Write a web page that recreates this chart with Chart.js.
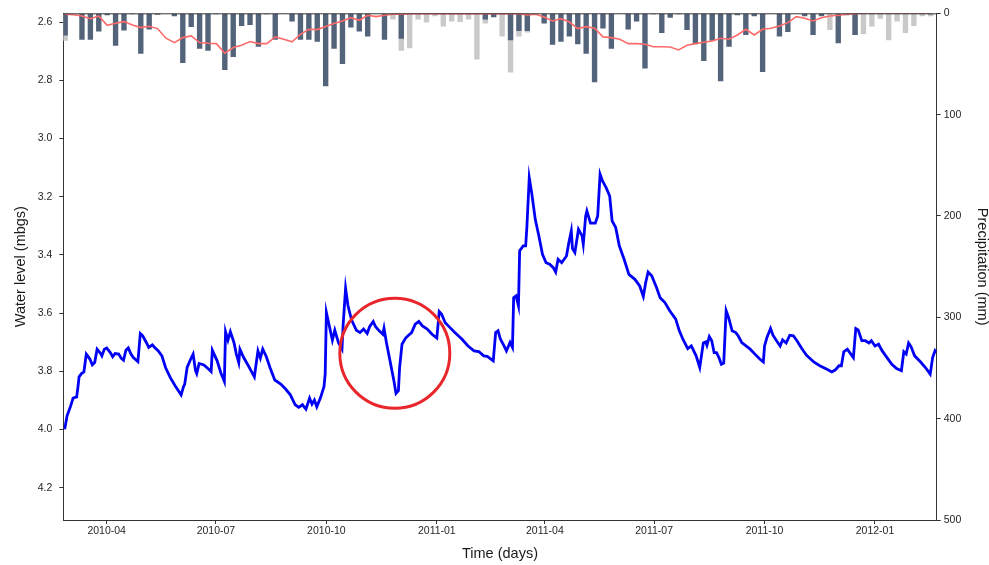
<!DOCTYPE html>
<html>
<head>
<meta charset="utf-8">
<title>Water level and precipitation</title>
<script src="https://cdn.jsdelivr.net/npm/chart.js@4.4.1/dist/chart.umd.min.js"></script>
<style>
  html, body { margin: 0; padding: 0; background: #fff; }
</style>
</head>
<body>
<canvas id="levelChart" width="989" height="565"></canvas>
<script>
// days counted from 2010-01-01 (= day 0)
const levelDay = [
    55, 57, 60, 62, 65, 66, 67, 69, 71, 73, 76, 78, 80, 82, 85, 86, 88, 90, 93, 95,
    97, 100, 102, 104, 106, 108, 110, 112, 116, 118, 120, 123, 125, 128, 130, 133, 136, 139, 143, 147,
    152, 154, 155, 157, 160, 162, 164, 165, 167, 171, 175, 177, 178, 182, 185, 188, 189, 191, 193, 196,
    198, 200, 201, 204, 208, 213, 216, 218, 220, 223, 226, 230, 235, 239, 243, 247, 250, 253, 256, 259,
    261, 263, 265, 268, 271, 272, 273, 275, 278, 280, 283, 286, 287, 289, 291, 294, 298, 301, 304, 307,
    309, 312, 314, 317, 320, 321, 323, 326, 329, 331, 333, 334, 336, 339, 341, 344, 347, 350, 353, 357,
    361, 365, 367, 369, 372, 376, 380, 386, 391, 396, 400, 404, 407, 412, 414, 416, 418, 421, 423, 426,
    428, 429, 431, 433, 434, 437, 439, 440, 442, 444, 447, 450, 453, 456, 459, 462, 464, 466, 469, 473,
    475, 477, 478, 480, 483, 486, 487, 489, 490, 493, 497, 499, 501, 503, 506, 509, 511, 514, 517, 521,
    525, 530, 534, 537, 539, 541, 544, 548, 551, 555, 559, 564, 567, 570, 574, 577, 581, 584, 587, 589,
    590, 592, 594, 596, 598, 600, 602, 604, 606, 608, 611, 614, 616, 619, 622, 626, 630, 634, 637, 638,
    640, 643, 645, 648, 651, 653, 656, 659, 662, 665, 669, 673, 679, 684, 690, 694, 697, 700, 702, 704,
    707, 709, 712, 714, 716, 719, 722, 725, 727, 730, 733, 736, 740, 744, 748, 752, 754, 756, 758, 760,
    763, 768, 772, 776, 778, 780, 781
];
const levelValue = [
    3.999, 3.953, 3.919, 3.892, 3.888, 3.856, 3.819, 3.808, 3.802, 3.741, 3.758, 3.778, 3.770, 3.724, 3.739, 3.747, 3.724, 3.720, 3.736, 3.750,
    3.739, 3.741, 3.755, 3.762, 3.728, 3.720, 3.739, 3.752, 3.767, 3.670, 3.678, 3.701, 3.718, 3.709, 3.718, 3.730, 3.747, 3.787, 3.822, 3.850,
    3.881, 3.853, 3.844, 3.787, 3.758, 3.741, 3.798, 3.808, 3.773, 3.778, 3.793, 3.801, 3.728, 3.764, 3.804, 3.835, 3.664, 3.693, 3.664, 3.701,
    3.741, 3.770, 3.724, 3.752, 3.781, 3.819, 3.730, 3.755, 3.724, 3.750, 3.787, 3.830, 3.844, 3.861, 3.881, 3.915, 3.924, 3.915, 3.930, 3.892,
    3.913, 3.899, 3.922, 3.892, 3.853, 3.810, 3.598, 3.636, 3.693, 3.659, 3.701, 3.724, 3.638, 3.515, 3.575, 3.624, 3.659, 3.667, 3.655, 3.670,
    3.647, 3.629, 3.647, 3.661, 3.673, 3.652, 3.701, 3.764, 3.827, 3.876, 3.867, 3.787, 3.707, 3.686, 3.678, 3.667, 3.638, 3.629, 3.644, 3.655,
    3.673, 3.686, 3.595, 3.604, 3.633, 3.650, 3.667, 3.690, 3.713, 3.730, 3.732, 3.747, 3.749, 3.764, 3.667, 3.661, 3.690, 3.713, 3.730, 3.701,
    3.718, 3.547, 3.541, 3.575, 3.386, 3.369, 3.369, 3.306, 3.135, 3.186, 3.278, 3.335, 3.398, 3.427, 3.432, 3.444, 3.459, 3.415, 3.427, 3.404,
    3.358, 3.318, 3.378, 3.392, 3.312, 3.335, 3.363, 3.266, 3.249, 3.291, 3.291, 3.266, 3.123, 3.146, 3.169, 3.198, 3.283, 3.306, 3.369, 3.415,
    3.467, 3.484, 3.507, 3.543, 3.495, 3.459, 3.472, 3.512, 3.547, 3.564, 3.592, 3.621, 3.661, 3.690, 3.722, 3.713, 3.747, 3.787, 3.703, 3.699,
    3.711, 3.681, 3.695, 3.736, 3.736, 3.753, 3.776, 3.772, 3.592, 3.615, 3.661, 3.667, 3.678, 3.701, 3.711, 3.724, 3.741, 3.758, 3.768, 3.713,
    3.684, 3.653, 3.676, 3.695, 3.713, 3.692, 3.703, 3.676, 3.678, 3.695, 3.722, 3.745, 3.768, 3.781, 3.793, 3.802, 3.795, 3.781, 3.781, 3.733,
    3.724, 3.736, 3.753, 3.653, 3.658, 3.695, 3.695, 3.703, 3.695, 3.713, 3.707, 3.730, 3.753, 3.776, 3.791, 3.798, 3.733, 3.741, 3.703, 3.715,
    3.747, 3.768, 3.787, 3.810, 3.753, 3.730, 3.736
];

// weekly precipitation (mm), first week centred on day 55.4
const precipFirstDay = 55.4;
const precipDark = [
    22, 0, 26, 26, 18, 2, 32, 17, 1, 40, 16, 1.5, 0, 3, 49, 13.5, 35, 37, 1, 56,
    43, 12.5, 11.5, 33, 1, 26, 0, 8, 26, 26, 28, 72, 35, 50, 14, 18, 23, 0, 26, 0,
    25, 0, 0, 0, 0, 0, 0, 0, 0, 0, 6, 4, 0, 26.5, 17.5, 17.5, 0, 10, 31, 28,
    23, 30.5, 40, 68, 15, 35, 0, 16, 8, 54.5, 1, 19.5, 4.5, 1, 16.5, 30.5, 47, 27, 67, 33,
    2, 21.5, 3, 58, 0, 23, 18.5, 0, 3, 21.5, 3, 0, 29.5, 2, 21.5, 0, 0, 0, 0, 0,
    0, 0, 0, 1
];
const precipGray = [
    27, 0, 0, 0, 0, 0, 0, 0, 0, 0, 0, 0, 0, 0, 0, 0, 0, 0, 0, 0,
    0, 0, 0, 0, 0, 0, 0, 0, 0, 0, 0, 0, 0, 0, 0, 0, 0, 0, 0, 6,
    37, 34.5, 6, 9, 3, 13, 8, 8.5, 6, 45.5, 10, 0, 23, 58.5, 23, 19, 0, 0, 0, 0,
    0, 0, 0, 0, 0, 0, 0, 0, 0, 0, 0, 0, 0, 0, 0, 0, 0, 0, 0, 0,
    0, 0, 0, 0, 0, 0, 0, 0, 0, 0, 0, 16.5, 0, 0, 21.5, 20.5, 13, 5.5, 26.5, 8,
    19.5, 12.5, 3, 3
];
const precipLine = [
    1, 1.5, 2.7, 5.3, 2.7, 11.9, 9.9, 8.2, 11.5, 14.1, 12.8, 15.1, 24.6, 28.9, 24, 22.3, 28.9, 29.6, 29.9, 39.4,
    33.8, 31.5, 27.9, 29.9, 29.9, 23.3, 25.6, 28.2, 20.7, 15.8, 16.1, 13, 10, 7.5, 4.3, 6.9, 2, 3.3, 2, 1,
    1, 0.4, 0.4, 0.4, 0.4, 0.4, 0.4, 0.4, 0.4, 0.4, 0.4, 0.4, 0.4, 0.4, 0.4, 1.7, 1, 3.6, 7.5, 5.3,
    8.6, 15.1, 13.2, 14.8, 23.3, 24, 25.6, 29.9, 29.9, 30.5, 33, 33, 33.2, 36.2, 31.5, 29.9, 28.6, 27.3, 24.6, 25.6,
    21.4, 15.8, 21.4, 15.8, 14.8, 12.5, 9.2, 3.3, 4.9, 7.5, 4.3, 2.7, 2, 1, 0.4, 0, 0, 0, 0, 0,
    0, 0, 0, 0
];

const monthTicks = ['2010-04', '2010-07', '2010-10', '2011-01', '2011-04', '2011-07', '2011-10', '2012-01'];
const levelTicks = [2.6, 2.8, 3.0, 3.2, 3.4, 3.6, 3.8, 4.0, 4.2];
const precipTicks = [0, 100, 200, 300, 400, 500];

function dayOf(label) {
    const parts = label.split('-').map(Number);
    return (Date.UTC(parts[0], parts[1] - 1, 1) - Date.UTC(2010, 0, 1)) / 86400000;
}

function weekly(values) {
    return values.map(function (v, i) { return { x: precipFirstDay + 7 * i, y: v }; });
}

Chart.defaults.font.family = '"Liberation Sans", Arial, sans-serif';
Chart.defaults.color = '#262626';

// top frame line and the red circle around the Nov 2010 dip
const frameAndCircle = {
    id: 'frameAndCircle',
    afterDatasetsDraw(chart) {
        const ctx = chart.ctx;
        const area = chart.chartArea;
        ctx.save();
        ctx.strokeStyle = '#333';
        ctx.lineWidth = 1;
        ctx.beginPath();
        ctx.moveTo(area.left, area.top + 0.5);
        ctx.lineTo(area.right, area.top + 0.5);
        ctx.stroke();

        const cx = chart.scales.x.getPixelForValue(330);
        const cy = chart.scales.y.getPixelForValue(3.738);
        ctx.strokeStyle = '#e8262b';
        ctx.lineWidth = 3;
        ctx.beginPath();
        ctx.arc(cx, cy, 55, 0, Math.PI * 2);
        ctx.stroke();
        ctx.restore();
    }
};

const axisGrid = { drawOnChartArea: false, drawTicks: true, tickLength: 4, color: '#333' };
const axisBorder = { display: true, color: '#333', width: 1 };

const ctx = document.getElementById('levelChart').getContext('2d');
new Chart(ctx, {
    type: 'bar',
    data: {
        datasets: [
            {
                type: 'line',
                label: 'Water level',
                data: levelDay.map(function (d, i) { return { x: d, y: levelValue[i] }; }),
                borderColor: '#0000f5',
                borderWidth: 2.8,
                pointRadius: 0,
                tension: 0,
                yAxisID: 'y',
                order: 0
            },
            {
                type: 'line',
                label: 'Precipitation trend',
                data: weekly(precipLine),
                borderColor: '#ff6a6a',
                borderWidth: 1.6,
                pointRadius: 0,
                tension: 0,
                yAxisID: 'y1',
                order: 1
            },
            {
                label: 'Precipitation',
                data: weekly(precipDark),
                backgroundColor: '#536379',
                barPercentage: 0.64,
                categoryPercentage: 1,
                grouped: false,
                yAxisID: 'y1',
                order: 2
            },
            {
                label: 'Precipitation (other)',
                data: weekly(precipGray),
                backgroundColor: '#c9c9c9',
                barPercentage: 0.64,
                categoryPercentage: 1,
                grouped: false,
                yAxisID: 'y1',
                order: 3
            }
        ]
    },
    options: {
        responsive: false,
        animation: false,
        events: [],
        layout: { padding: { top: 12, left: 0, right: 0, bottom: 0 } },
        plugins: {
            legend: { display: false },
            tooltip: { enabled: false }
        },
        scales: {
            x: {
                type: 'linear',
                min: 53.85,
                max: 781.4,
                offset: false,
                grid: Object.assign({ offset: false }, axisGrid),
                border: axisBorder,
                afterBuildTicks: function (scale) {
                    scale.ticks = monthTicks.map(function (m) { return { value: dayOf(m) }; });
                },
                ticks: {
                    autoSkip: false,
                    maxRotation: 0,
                    padding: 1,
                    font: { size: 10.5 },
                    callback: function (value, index) { return monthTicks[index]; }
                },
                title: {
                    display: true,
                    text: 'Time (days)',
                    color: '#1a1a1a',
                    font: { size: 14.5, lineHeight: 1 },
                    padding: { top: 0, bottom: 4 }
                },
                afterFit: function (scale) { scale.height = 45; }
            },
            y: {
                type: 'linear',
                position: 'left',
                reverse: true,
                min: 2.57,
                max: 4.311,
                grid: axisGrid,
                border: axisBorder,
                afterBuildTicks: function (scale) {
                    scale.ticks = levelTicks.map(function (v) { return { value: v }; });
                },
                ticks: {
                    padding: 7,
                    font: { size: 10.5 },
                    callback: function (value) { return value.toFixed(1); }
                },
                title: {
                    display: true,
                    text: 'Water level (mbgs)',
                    color: '#1a1a1a',
                    font: { size: 14.5, lineHeight: 1 },
                    padding: { top: 14, bottom: 0 }
                },
                afterFit: function (scale) { scale.width = 63.3; }
            },
            y1: {
                type: 'linear',
                position: 'right',
                reverse: true,
                min: 0,
                max: 500,
                grid: axisGrid,
                border: axisBorder,
                afterBuildTicks: function (scale) {
                    scale.ticks = precipTicks.map(function (v) { return { value: v }; });
                },
                ticks: {
                    padding: 3,
                    font: { size: 10.5 },
                    callback: function (value) { return String(value); }
                },
                title: {
                    display: true,
                    text: 'Precipitation (mm)',
                    color: '#1a1a1a',
                    font: { size: 14.5, lineHeight: 1 },
                    padding: { top: 0, bottom: 0 }
                },
                afterFit: function (scale) { scale.width = 52.3; }
            }
        }
    },
    plugins: [frameAndCircle]
});
</script>
</body>
</html>
